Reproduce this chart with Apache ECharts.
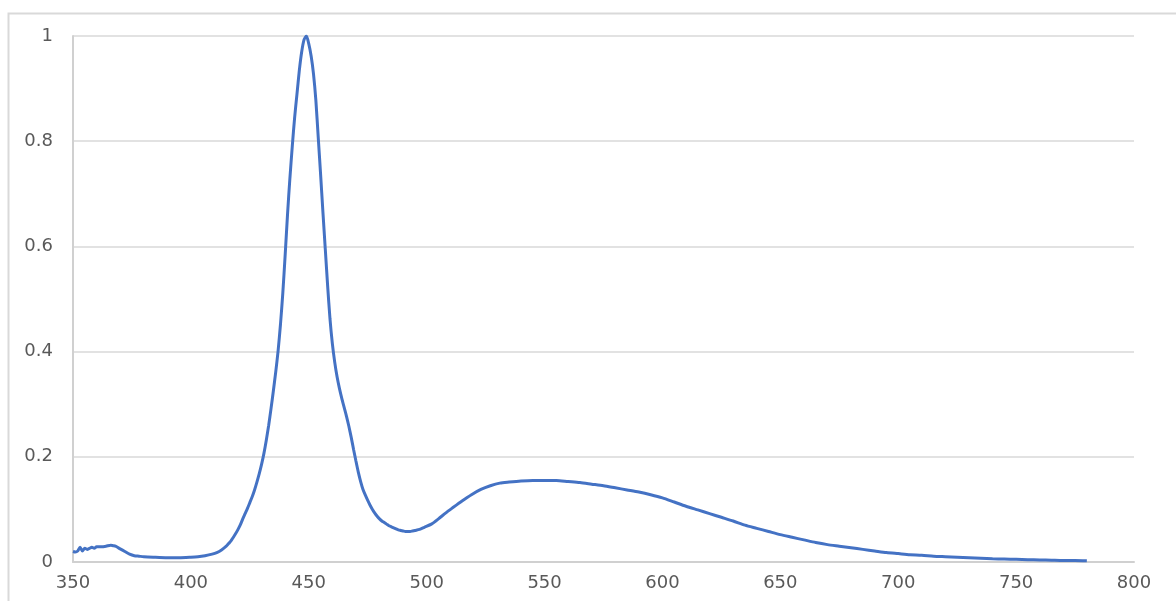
<!DOCTYPE html>
<html>
<head>
<meta charset="utf-8">
<script src="https://cdn.jsdelivr.net/npm/echarts@6/dist/echarts.min.js"></script>
<style>
html,body{margin:0;padding:0;background:#fff;}
#chart{width:1176px;height:601px;}
</style>
</head>
<body>
<div id="chart"></div>
<script>
const wavelengths = [350,351,352,353,354,355,356,357,358,359,360,362,364,366,367,368,370,372,374,376,378,380,384,390,395,400,403,406,409,411,413,
  415,416,417,418,419,420,421,422,423,424,425,426,427,428,429,430,431,432,433,434,435,436,437,438,439,440,441,442,443,444,445,446,447,448,449,450,
  451,452,453,454,455,456,457,458,459,460,461,462,463,464,465,466,467,468,469,470,471,472,473,474,475,476,477,478,479,480,481,482,483,484,485,486,487,488,489,490,491,492,493,494,495,
  497,499,502,505,508,511,515,519,523,527,531,535,540,545,550,555,560,565,570,575,580,585,590,595,600,605,610,615,620,625,630,635,640,645,650,655,660,665,670,675,680,685,690,695,700,705,710,715,720,725,730,735,740,745,750,755,760,765,770,775,780];
const intensity = [0.020,0.019,0.021,0.028,0.021,0.026,0.024,0.026,0.028,0.026,0.029,0.029,0.030,0.032,0.031,0.030,0.025,0.020,0.015,0.012,0.011,0.010,0.009,0.008,0.008,0.009,0.010,0.012,0.015,0.018,0.023,
  0.030,0.035,0.040,0.047,0.054,0.062,0.071,0.082,0.092,0.102,0.113,0.124,0.137,0.152,0.168,0.186,0.207,0.232,0.260,0.292,0.326,0.362,0.402,0.452,0.512,0.585,0.662,0.730,0.790,0.845,0.890,0.935,0.970,0.993,1.000,0.985,
  0.962,0.928,0.878,0.808,0.738,0.665,0.595,0.525,0.462,0.415,0.380,0.352,0.330,0.311,0.294,0.277,0.258,0.237,0.214,0.192,0.171,0.153,0.138,0.127,0.117,0.108,0.100,0.093,0.087,0.082,0.078,0.075,0.072,0.069,0.067,0.065,0.063,0.061,0.060,0.059,0.058,0.058,0.058,0.059,0.060,
  0.062,0.066,0.072,0.082,0.093,0.103,0.116,0.128,0.138,0.145,0.150,0.152,0.154,0.155,0.155,0.155,0.153,0.151,0.148,0.145,0.141,0.137,0.133,0.128,0.122,0.114,0.106,0.099,0.092,0.085,0.078,0.070,0.064,0.058,0.052,0.047,0.042,0.037,0.033,0.030,0.027,0.024,0.021,0.018,0.016,0.014,0.013,0.011,0.010,0.009,0.008,0.007,0.006,0.0055,0.005,0.0045,0.004,0.0035,0.003,0.003,0.0025];
const xTicks = {min:350, max:800, interval:50};
const yTicks = {min:0, max:1, interval:0.2};

const points = wavelengths.map((w,i)=>[w,intensity[i]]);
const chart = echarts.init(document.getElementById('chart'));
chart.setOption({
  animation:false,
  backgroundColor:'#ffffff',
  graphic:[{type:'rect',left:6,top:11,shape:{width:1200,height:700},style:{fill:'none',stroke:'#d9d9d9',lineWidth:2},silent:true}],
  grid:{left:73,right:42,top:36,bottom:39,containLabel:false},
  xAxis:{type:'value',min:xTicks.min,max:xTicks.max,interval:xTicks.interval,
    axisLine:{show:true,lineStyle:{color:'#d0d0d0',width:2}},
    axisTick:{show:false},splitLine:{show:false},
    axisLabel:{color:'#595959',fontSize:18,margin:12,fontFamily:'DejaVu Sans'}},
  yAxis:{type:'value',min:yTicks.min,max:yTicks.max,interval:yTicks.interval,
    axisLine:{show:true,lineStyle:{color:'#d0d0d0',width:2}},
    axisTick:{show:false},
    splitLine:{show:true,lineStyle:{color:'#d9d9d9',width:1.5}},
    axisLabel:{color:'#595959',fontSize:18,margin:20,fontFamily:'DejaVu Sans'}},
  series:[{type:'line',data:points,showSymbol:false,smooth:0.25,
    lineStyle:{color:'#4472C4',width:3},itemStyle:{color:'#4472C4'}}]
});
</script>
</body>
</html>
